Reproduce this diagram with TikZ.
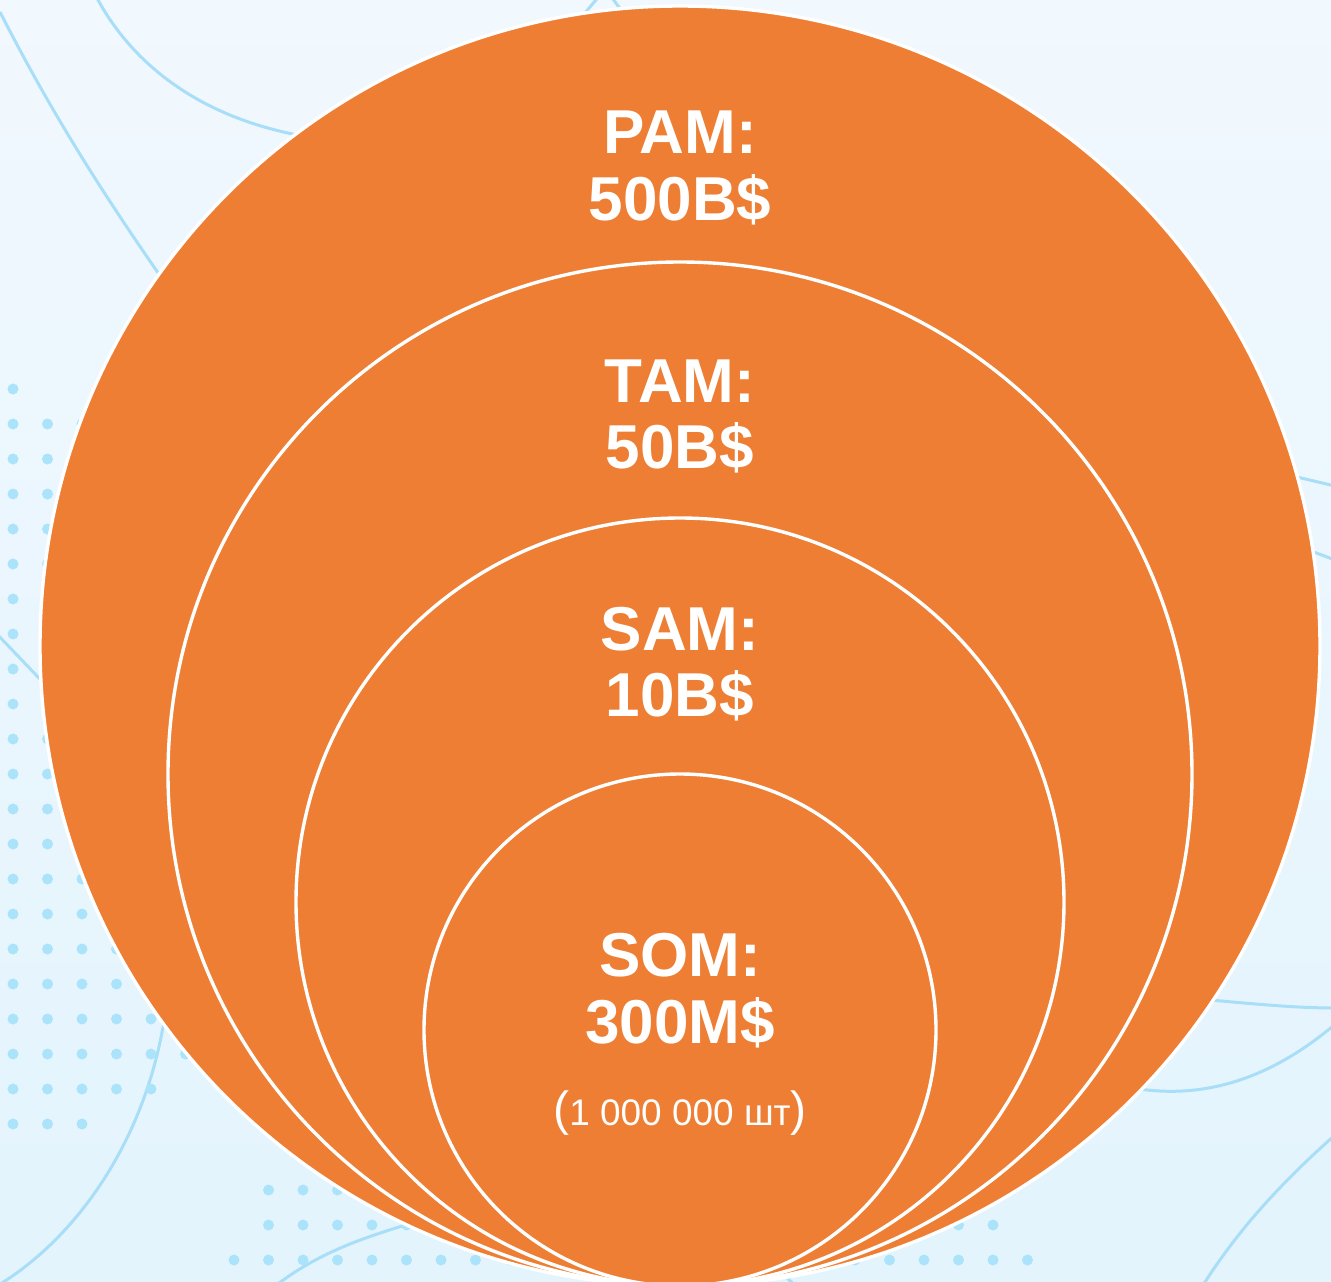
\documentclass[tikz,border=0pt]{standalone}
\usepackage{fontspec}
\setmainfont{Liberation Sans}
\definecolor{bgtop}{HTML}{F1F8FE}
\definecolor{bgbot}{HTML}{E3F4FD}
\definecolor{dotc}{HTML}{ABE3FB}
\definecolor{linec}{HTML}{A8DEF7}
\definecolor{orng}{HTML}{ED7E33}
\tikzset{
  bgline/.style={draw=linec, line width=3pt},
  dotfill/.style={fill=dotc},
  ring/.style={fill=orng, draw=white, line width=3.4pt},
  bigtxt/.style={text=white, font=\bfseries\fontsize{62}{68}\selectfont, anchor=base, inner sep=0pt},
  smalltxt/.style={text=white, font=\fontsize{37}{42}\selectfont, anchor=base, inner sep=0pt}
}
\begin{document}
\begin{tikzpicture}[x=1pt,y=-1pt]
\clip (0,0) rectangle (1331,1282);
\useasboundingbox (0,0) rectangle (1331,1282);
\shade[top color=bgtop, bottom color=bgbot] (0,0) rectangle (1331,1282);
% background curves
\draw[bgline] (0,12) .. controls (50,110) and (100,190) .. (170,290);
\draw[bgline] (97,-2) .. controls (130,60) and (200,125) .. (330,140);
\draw[bgline] (-5,632) -- (60,700);
\draw[bgline] (170,960) .. controls (165,1120) and (80,1240) .. (-10,1290);
\draw[bgline] (270,1290) .. controls (320,1250) and (370,1235) .. (440,1215);
\draw[bgline] (770,1262) -- (800,1290);
\draw[bgline] (1150,995) .. controls (1220,1000) and (1280,1008) .. (1335,1008);
\draw[bgline] (1100,1080) .. controls (1180,1105) and (1260,1090) .. (1340,1020);
\draw[bgline] (1335,1135) .. controls (1290,1175) and (1240,1225) .. (1200,1290);
\draw[bgline] (1280,473) -- (1335,486);
\draw[bgline] (1290,543) -- (1335,560);
\draw[bgline] (575,25) -- (600,-5);
\draw[bgline] (610,-5) -- (632,25);
% dot grids
\fill[dotfill] (13,389) circle (5.5);
\foreach \j in {1,...,19} {\foreach \i in {0,...,5} {\fill[dotfill] ({13+34.5*\i},{389+35*\j}) circle (5.5);}}
\foreach \i in {0,...,4} {\fill[dotfill] ({13+34.5*\i},1089) circle (5.5);}
\foreach \i in {0,...,2} {\fill[dotfill] ({13+34.5*\i},1124) circle (5.5);}
\foreach \i in {1,...,3} {\fill[dotfill] ({234+34.5*\i},1190) circle (5.5);}
\foreach \i in {1,...,22} {\fill[dotfill] ({234+34.5*\i},1225) circle (5.5);}
\foreach \i in {0,...,23} {\fill[dotfill] ({234+34.5*\i},1260) circle (5.5);}
% circles
\path[ring] (680,646) circle (640);
\path[ring] (680,774) circle (512);
\path[ring] (680,902) circle (384);
\path[ring] (680,1030) circle (256);
% labels
\node[bigtxt] (pam) at (680,153) {PAM:};
\node[bigtxt] (pamv) at (680,220) {500B\$};
\node[bigtxt] (tam) at (680,402) {TAM:};
\node[bigtxt] (tamv) at (680,468) {50B\$};
\node[bigtxt] (sam) at (680,650) {SAM:};
\node[bigtxt] (samv) at (680,716) {10B\$};
\node[bigtxt] (som) at (680,976) {SOM:};
\node[bigtxt] (somv) at (680,1043) {300M\$};
\node[smalltxt] (units) at (680,1125) {{\fontsize{48}{52}\selectfont(}1 000 000 шт{\fontsize{48}{52}\selectfont)}};
\end{tikzpicture}
\end{document}
